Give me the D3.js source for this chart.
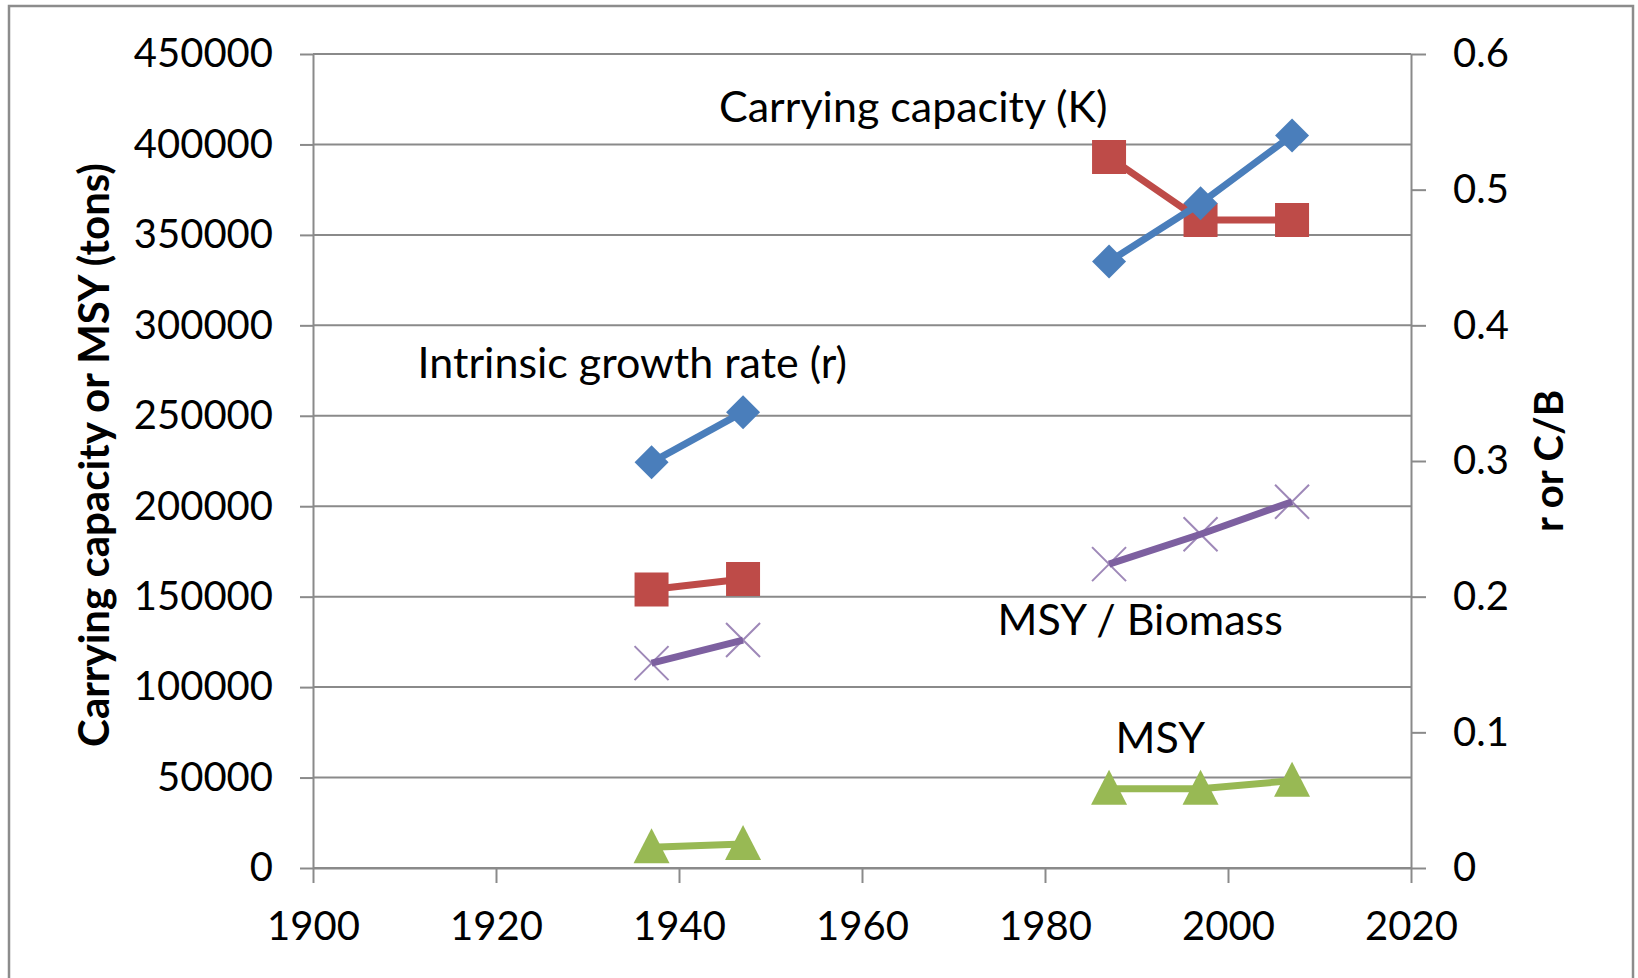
<!DOCTYPE html>
<html>
<head>
<meta charset="utf-8">
<script src="https://cdn.jsdelivr.net/npm/d3@7"></script>
<style>
  body { margin: 0; background: #fff; }
  text { font-family: Lato, "Open Sans", sans-serif; fill: #000; }
</style>
</head>
<body>
<div id="wrapper"></div>
<script>
// survey years, two periods with a gap in between
const years = [1937, 1947, 1987, 1997, 2007];
const period = [1, 1, 2, 2, 2];
const kValues = [154000, 159800, 393000, 358200, 358200];   // carrying capacity, tons
const rValues = [0.299, 0.336, 0.447, 0.490, 0.540];        // intrinsic growth rate
const msyValues = [11500, 13200, 43800, 43800, 48300];      // MSY, tons
const cbValues = [0.151, 0.168, 0.224, 0.246, 0.270];       // MSY / biomass

const xTicks = [1900, 1920, 1940, 1960, 1980, 2000, 2020];
const leftTicks = [0, 50000, 100000, 150000, 200000, 250000, 300000, 350000, 400000, 450000];
const rightTicks = [0, 0.1, 0.2, 0.3, 0.4, 0.5, 0.6];
const rightTickLabels = ["0", "0.1", "0.2", "0.3", "0.4", "0.5", "0.6"];

const leftTitle = "Carrying capacity or MSY (tons)";
const rightTitle = "r or C/B";
const noteTexts = ["Carrying capacity (K)", "Intrinsic growth rate (r)", "MSY / Biomass", "MSY"];

let dimensions = {
  width: 1638,
  height: 978,
  margin: { top: 54, left: 313, bottom: 110, right: 227 }
}
dimensions.boundedWidth = dimensions.width - dimensions.margin.left - dimensions.margin.right;
dimensions.boundedHeight = dimensions.height - dimensions.margin.top - dimensions.margin.bottom;

const gridColor = "#8a8a8a";
const tickFont = 40;
const noteFont = 43;
const titleFont = 42;

let wrapper = d3.select("#wrapper").append("svg")
  .attr("width", dimensions.width)
  .attr("height", dimensions.height);

// outer frame of the chart area
wrapper.append("rect")
  .attr("x", 9).attr("y", 6)
  .attr("width", 1624).attr("height", 1000)
  .attr("fill", "none")
  .attr("stroke", "#8c8c8c")
  .attr("stroke-width", 2.5);

let container = wrapper.append("g")
  .attr("transform", `translate(${dimensions.margin.left},${dimensions.margin.top})`);

const xScale = d3.scaleLinear().domain([1900, 2020]).range([0, dimensions.boundedWidth]);
const yLeft = d3.scaleLinear().domain([0, 450000]).range([dimensions.boundedHeight, 0]);
const yRight = d3.scaleLinear().domain([0, 0.6]).range([dimensions.boundedHeight, 0]);

// gridlines
container.append("g").selectAll("line")
  .data(leftTicks)
  .enter().append("line")
  .attr("x1", 0).attr("x2", dimensions.boundedWidth)
  .attr("y1", d => yLeft(d)).attr("y2", d => yLeft(d))
  .attr("stroke", gridColor).attr("stroke-width", 2);

function styleAxis(g) {
  g.select(".domain").attr("stroke", gridColor).attr("stroke-width", 2);
  g.selectAll(".tick line").attr("stroke", gridColor).attr("stroke-width", 2);
  g.selectAll(".tick text").attr("font-size", tickFont).attr("fill", "#000").style("font-family", "Lato, sans-serif");
}

const xAxisGen = d3.axisBottom(xScale).tickValues(xTicks).tickFormat(d3.format("d"))
  .tickSize(15).tickSizeOuter(0).tickPadding(29);
container.append("g")
  .attr("transform", `translate(0,${dimensions.boundedHeight})`)
  .call(xAxisGen).call(styleAxis);

const yAxisGen = d3.axisLeft(yLeft).tickValues(leftTicks).tickFormat(d3.format("d"))
  .tickSize(13).tickSizeOuter(0).tickPadding(27);
container.append("g").call(yAxisGen).call(styleAxis);

const yAxisRightGen = d3.axisRight(yRight).tickValues(rightTicks)
  .tickFormat((d, i) => rightTickLabels[i])
  .tickSize(15).tickSizeOuter(0).tickPadding(27);
container.append("g")
  .attr("transform", `translate(${dimensions.boundedWidth},0)`)
  .call(yAxisRightGen).call(styleAxis);

// axis titles
wrapper.append("text")
  .attr("transform", `translate(109,455) rotate(-90)`)
  .attr("text-anchor", "middle")
  .attr("font-size", titleFont).attr("font-weight", "bold")
  .text(leftTitle);
wrapper.append("text")
  .attr("transform", `translate(1563,461) rotate(-90)`)
  .attr("text-anchor", "middle")
  .attr("font-size", 40).attr("font-weight", "bold")
  .text(rightTitle);

// series
const rows = years.map((yr, i) => ({
  year: yr, period: period[i],
  k: kValues[i], r: rValues[i], msy: msyValues[i], cb: cbValues[i]
}));

const series = [
  { key: "k", scale: yLeft, color: "#be4b48", marker: "square", width: 7 },
  { key: "r", scale: yRight, color: "#4a7ebb", marker: "diamond", width: 7 },
  { key: "msy", scale: yLeft, color: "#98b954", marker: "triangle", width: 7 },
  { key: "cb", scale: yRight, color: "#7d60a0", marker: "x", width: 7 }
];

const markerPath = {
  square: "M-17,-17H17V17H-17Z",
  diamond: "M0,-17L17,0L0,17L-17,0Z",
  triangle: "M0,-19L18,16H-18Z",
  x: "M-17,-17L17,17M17,-17L-17,17"
};

series.forEach(s => {
  const line = d3.line()
    .x(d => xScale(d.year))
    .y(d => s.scale(d[s.key]));
  const groups = d3.groups(rows, d => d.period);
  container.append("g").selectAll("path")
    .data(groups)
    .enter().append("path")
    .attr("d", d => line(d[1]))
    .attr("fill", "none")
    .attr("stroke", s.color)
    .attr("stroke-width", s.width)
    .attr("stroke-linejoin", "round");
  container.append("g").selectAll("path")
    .data(rows)
    .enter().append("path")
    .attr("transform", d => `translate(${xScale(d.year)},${s.scale(d[s.key])})`)
    .attr("d", markerPath[s.marker])
    .attr("fill", s.marker === "x" ? "none" : s.color)
    .attr("stroke", s.color)
    .attr("stroke-width", s.marker === "x" ? 2 : 0)
    .attr("opacity", s.marker === "x" ? 0.75 : 1);
});

// series notes placed in data coordinates
const notePlaces = [[1965.6, 412400], [1934.9, 270900], [1990.4, 128800], [1992.6, 63600]];
container.append("g").selectAll("text")
  .data(noteTexts)
  .enter().append("text")
  .attr("x", (d, i) => xScale(notePlaces[i][0]))
  .attr("y", (d, i) => yLeft(notePlaces[i][1]))
  .attr("text-anchor", "middle")
  .attr("font-size", noteFont)
  .text(d => d);
</script>
</body>
</html>
